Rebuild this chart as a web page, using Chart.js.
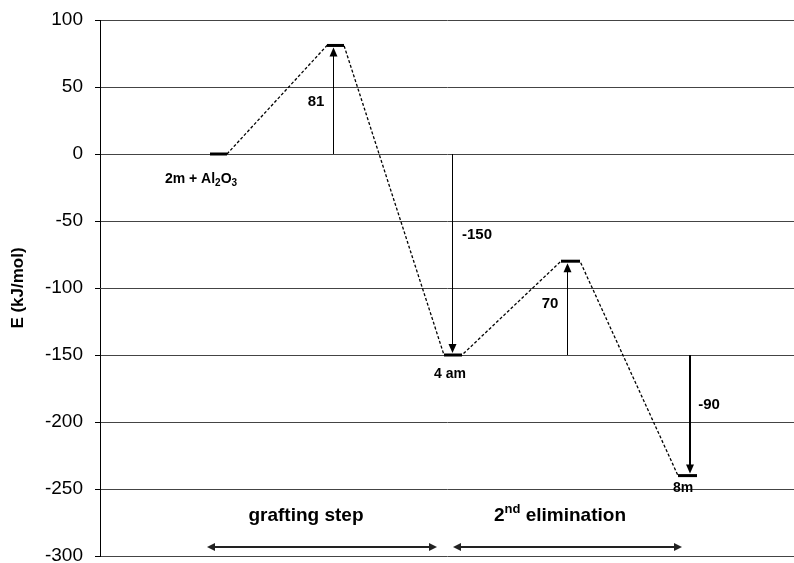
<!DOCTYPE html>
<html>
<head>
<meta charset="utf-8">
<script src="https://cdn.jsdelivr.net/npm/chart.js@4"></script>
<style>
  html, body { margin: 0; padding: 0; background: #fff; }
</style>
</head>
<body>
<canvas id="chart" width="794" height="563"></canvas>
<script>
// === Energy levels (x = reaction coordinate, y = kJ/mol) ===
const levelEnergy = [0, 81, -150, -80, -240];
const levelFrom   = [110, 227, 344, 461, 578];
const levelTo     = [127, 244, 362, 480, 597];

// === Energy steps (vertical arrows) ===
const stepX     = [233, 352, 467, 590];
const stepFrom  = [0, 0, -150, -150];
const stepTo    = [81, -150, -80, -240];
const stepText  = ['81', '-150', '70', '-90'];

// === Species names under the levels ===
const speciesText = ['2m + Al_{2}O_{3}', '4 am', '8m'];
const speciesX    = [101, 350, 583];
const speciesY    = [-19, -164, -249];

// === Phases along the bottom ===
const phaseText = ['grafting step', '2^{nd} elimination'];
const phaseFrom = [107, 353];
const phaseTo   = [337, 582];

// tick labels
const yMin = -300, yMax = 100, yStep = 50;

// label positions (chart units)
const stepLabelX = [216, 377, 450, 609];
const stepLabelY = [39, -60, -112, -187];
const phaseLabelX = [206, 460];
const phaseLabelY = -270;
const phaseArrowY = -293;

const FONT = '"Liberation Sans", Arial, sans-serif';

// levels as separate segments, connectors as one dashed path
const levelSets = levelEnergy.map((e, i) => ({
  data: [{ x: levelFrom[i], y: e }, { x: levelTo[i], y: e }],
  borderColor: '#000',
  borderWidth: 3,
  borderCapStyle: 'butt',
  pointRadius: 0,
  order: 1
}));

const pathPts = [];
levelEnergy.forEach((e, i) => {
  if (i > 0) pathPts.push({ x: levelFrom[i], y: e });
  if (i < levelEnergy.length - 1) pathPts.push({ x: levelTo[i], y: e });
});

const connector = {
  data: pathPts,
  borderColor: '#000',
  borderWidth: 1.3,
  borderDash: [3, 2],
  pointRadius: 0,
  order: 2
};

function head(ctx, tx, ty, dx, dy, len, half) {
  const bx = tx - dx * len, by = ty - dy * len;
  ctx.beginPath();
  ctx.moveTo(tx, ty);
  ctx.lineTo(bx - dy * half, by + dx * half);
  ctx.lineTo(bx + dy * half, by - dx * half);
  ctx.closePath();
  ctx.fill();
}

// draws text with _{sub} and ^{sup}, centred on cx, middle on cy
function richText(ctx, str, cx, cy, size) {
  const parts = str.match(/(_\{[^}]*\}|\^\{[^}]*\}|[^_^]+)/g);
  const small = Math.round(size * 0.68);
  const items = parts.map(p => {
    if (p[0] === '_') return { t: p.slice(2, -1), f: small, dy: size * 0.3 };
    if (p[0] === '^') return { t: p.slice(2, -1), f: small, dy: -size * 0.35 };
    return { t: p, f: size, dy: 0 };
  });
  let w = 0;
  items.forEach(it => { ctx.font = `bold ${it.f}px ${FONT}`; it.w = ctx.measureText(it.t).width; w += it.w; });
  let x = cx - w / 2;
  ctx.textAlign = 'left';
  ctx.textBaseline = 'middle';
  items.forEach(it => {
    ctx.font = `bold ${it.f}px ${FONT}`;
    ctx.fillText(it.t, x, cy + it.dy);
    x += it.w;
  });
}

const annotate = {
  id: 'annotate',
  afterDatasetsDraw(chart) {
    const { ctx, scales: { x, y } } = chart;
    ctx.save();
    ctx.fillStyle = '#000';
    ctx.strokeStyle = '#000';

    // step arrows
    stepX.forEach((sx, i) => {
      const lw = i === 3 ? 2 : 1;
      const px = Math.round(x.getPixelForValue(sx)) + (lw === 1 ? 0.5 : 0);
      const p0 = y.getPixelForValue(stepFrom[i]);
      const p1 = y.getPixelForValue(stepTo[i]) + (stepTo[i] > stepFrom[i] ? 2 : -2);
      const dy = p1 < p0 ? -1 : 1;
      ctx.lineWidth = lw;
      ctx.beginPath();
      ctx.moveTo(px, p0);
      ctx.lineTo(px, p1 - dy * 6);
      ctx.stroke();
      head(ctx, px, p1, 0, dy, 9, 4);
    });

    // step values
    stepText.forEach((t, i) => {
      richText(ctx, t, x.getPixelForValue(stepLabelX[i]), y.getPixelForValue(stepLabelY[i]), 15);
    });

    // species
    speciesText.forEach((t, i) => {
      richText(ctx, t, x.getPixelForValue(speciesX[i]), y.getPixelForValue(speciesY[i]), 14);
    });

    // phases
    const ay = Math.round(y.getPixelForValue(phaseArrowY));
    ctx.fillStyle = '#222';
    ctx.strokeStyle = '#222';
    phaseText.forEach((t, i) => {
      const a = x.getPixelForValue(phaseFrom[i]);
      const b = x.getPixelForValue(phaseTo[i]);
      ctx.lineWidth = 2;
      ctx.beginPath();
      ctx.moveTo(a + 6, ay);
      ctx.lineTo(b - 6, ay);
      ctx.stroke();
      head(ctx, a, ay, -1, 0, 8, 4);
      head(ctx, b, ay, 1, 0, 8, 4);
      ctx.fillStyle = '#000';
      richText(ctx, t, x.getPixelForValue(phaseLabelX[i]), y.getPixelForValue(phaseLabelY), 19);
      ctx.fillStyle = '#222';
    });
    ctx.restore();
  }
};

new Chart(document.getElementById('chart'), {
  type: 'line',
  data: { datasets: [...levelSets, connector] },
  options: {
    responsive: false,
    animation: false,
    events: [],
    layout: { padding: { top: 20, bottom: 7, left: 0, right: 0 } },
    plugins: { legend: { display: false }, tooltip: { enabled: false } },
    scales: {
      x: { type: 'linear', display: false, min: 0, max: 694 },
      y: {
        type: 'linear',
        min: yMin,
        max: yMax,
        ticks: {
          stepSize: yStep,
          color: '#000',
          padding: 12,
          font: { family: FONT, size: 19 }
        },
        grid: { color: '#444', lineWidth: 1, tickLength: 5, tickColor: '#000' },
        border: { color: '#000', width: 1 },
        title: {
          display: true,
          text: 'E (kJ/mol)',
          color: '#000',
          padding: { top: 8, bottom: 0 },
          font: { family: FONT, size: 17, weight: 'bold' }
        },
        afterFit(scale) {
          scale.width = 100;
          scale.paddingTop = 0;
          scale.paddingBottom = 0;
        }
      }
    }
  },
  plugins: [annotate]
});
</script>
</body>
</html>
